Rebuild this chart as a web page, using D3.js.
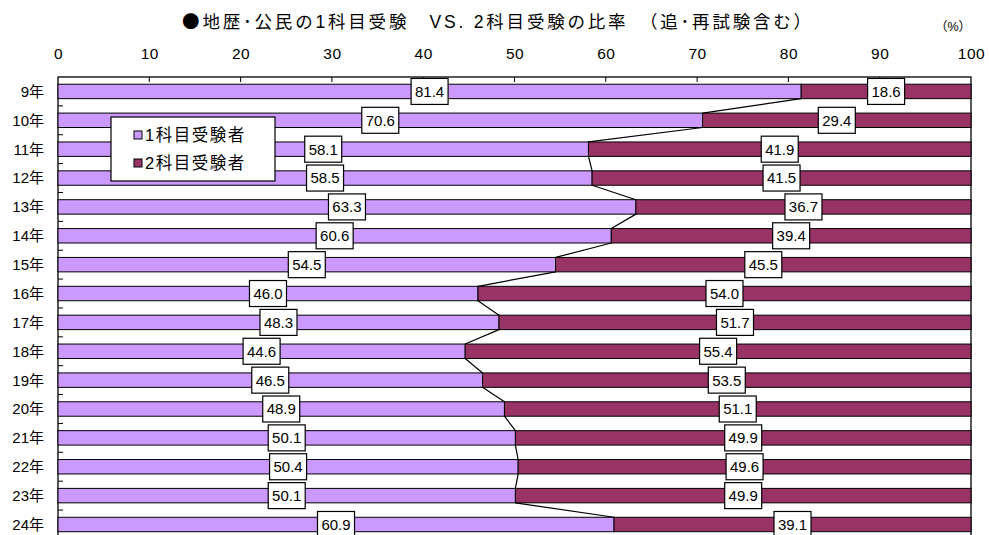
<!DOCTYPE html>
<html>
<head>
<meta charset="utf-8">
<script src="https://cdn.jsdelivr.net/npm/d3@7"></script>
<style>
  html, body { margin: 0; padding: 0; background: #fff; }
  svg text { font-family: "Liberation Sans", Arial, "Noto Sans CJK JP", sans-serif; fill: #000; }
</style>
</head>
<body>
<svg id="chart" width="989" height="535"></svg>
<script>
// Survey years (row labels, top to bottom)
const years = ["9年","10年","11年","12年","13年","14年","15年","16年","17年","18年","19年","20年","21年","22年","23年","24年"];
// Share of candidates taking one subject (%)
const oneSubject = [81.4,70.6,58.1,58.5,63.3,60.6,54.5,46.0,48.3,44.6,46.5,48.9,50.1,50.4,50.1,60.9];
// Share of candidates taking two subjects (%)
const twoSubjects = [18.6,29.4,41.9,41.5,36.7,39.4,45.5,54.0,51.7,55.4,53.5,51.1,49.9,49.6,49.9,39.1];
const seriesNames = ["1科目受験者","2科目受験者"];
const xTicks = [0,10,20,30,40,50,60,70,80,90,100];
const colors = ["#CC99FF","#993366"];

const svg = d3.select("#chart");
const margin = {left: 58, right: 18, top: 77};
const plotW = 989 - margin.left - margin.right;   // 913
const band = 28.87;
const plotH = band * years.length;

const x = d3.scaleLinear().domain([0,100]).range([margin.left, margin.left + plotW]);
const y = d3.scaleBand().domain(years).range([margin.top, margin.top + plotH]).paddingInner(0.5).paddingOuter(0.25);

const rows = years.map((yr,i) => ({year: yr, a: oneSubject[i], b: twoSubjects[i]}));

// Title
const title = svg.append("text")
  .attr("x", 498).attr("y", 28)
  .attr("text-anchor", "middle")
  .attr("font-size", 17.5)
  .attr("letter-spacing", 2.8);
title.append("tspan").attr("font-family", "Noto Sans CJK JP").text("●");
title.append("tspan").text("地歴･公民の1科目受験　VS. 2科目受験の比率　（追･再試験含む）");
svg.append("text")
  .attr("x", 953).attr("y", 31)
  .attr("text-anchor", "middle")
  .attr("font-size", 12.5)
  .text("（%）");

// Plot frame
svg.append("rect")
  .attr("x", x(0)).attr("y", margin.top)
  .attr("width", x(100) - x(0)).attr("height", plotH)
  .attr("fill", "#fff").attr("stroke", "#000").attr("stroke-width", 1.3);

// Top axis
const xAxis = d3.axisTop(x).tickValues(xTicks).tickSize(0).tickPadding(0);
const gx = svg.append("g").attr("transform", `translate(0,${margin.top})`).call(xAxis);
gx.select(".domain").remove();
gx.selectAll("text").attr("y", -18).attr("font-size", 15.5).attr("letter-spacing", 0.5).attr("font-family", null);
// inner tick marks along the top edge
svg.append("g").selectAll("line").data(xTicks.slice(1, -1)).join("line")
  .attr("x1", d => x(d)).attr("x2", d => x(d))
  .attr("y1", margin.top).attr("y2", margin.top + 5)
  .attr("stroke", "#000").attr("stroke-width", 1);

// Left category labels
svg.append("g").selectAll("text").data(years).join("text")
  .attr("x", 44).attr("y", d => y(d) + y.bandwidth()/2)
  .attr("dy", "0.36em")
  .attr("text-anchor", "end")
  .attr("font-size", 15)
  .text(d => d);
// inner tick marks at category boundaries
svg.append("g").selectAll("line").data(d3.range(1, years.length)).join("line")
  .attr("x1", x(0)).attr("x2", x(0) + 5)
  .attr("y1", i => margin.top + i*band).attr("y2", i => margin.top + i*band)
  .attr("stroke", "#000").attr("stroke-width", 1);

// Stacked bars
const bars = svg.append("g");
bars.selectAll("rect.a").data(rows).join("rect").attr("class","a")
  .attr("x", x(0)).attr("y", d => y(d.year))
  .attr("width", d => x(d.a) - x(0)).attr("height", y.bandwidth())
  .attr("fill", colors[0]).attr("stroke", "#000").attr("stroke-width", 1);
bars.selectAll("rect.b").data(rows).join("rect").attr("class","b")
  .attr("x", d => x(d.a)).attr("y", d => y(d.year))
  .attr("width", d => x(d.a + d.b) - x(d.a)).attr("height", y.bandwidth())
  .attr("fill", colors[1]).attr("stroke", "#000").attr("stroke-width", 1);

// Series lines linking the segment boundary of consecutive bars
svg.append("g").selectAll("line").data(rows.slice(0, -1)).join("line")
  .attr("x1", d => x(d.a)).attr("y1", d => y(d.year) + y.bandwidth())
  .attr("x2", (d,i) => x(rows[i+1].a)).attr("y2", (d,i) => y(rows[i+1].year))
  .attr("stroke", "#000").attr("stroke-width", 1.2);

// Value labels in boxes
function labels(cls, val, mid) {
  const g = svg.append("g").selectAll("g." + cls).data(rows).join("g")
    .attr("class", cls)
    .attr("transform", d => `translate(${mid(d)},${y(d.year) + y.bandwidth()/2})`);
  g.append("rect")
    .attr("x", -18.5).attr("y", -13).attr("width", 37).attr("height", 26)
    .attr("fill", "#fff").attr("stroke", "#000").attr("stroke-width", 1.2);
  g.append("text")
    .attr("text-anchor", "middle").attr("dy", "0.36em")
    .attr("font-size", 15)
    .text(d => val(d).toFixed(1));
}
labels("la", d => d.a, d => x(d.a / 2));
labels("lb", d => d.b, d => x(d.a + d.b / 2));

// Legend
const lg = svg.append("g").attr("transform", "translate(111,117)");
lg.append("rect").attr("width", 164).attr("height", 64)
  .attr("fill", "#fff").attr("stroke", "#000").attr("stroke-width", 1.2);
const items = lg.selectAll("g").data(seriesNames).join("g")
  .attr("transform", (d,i) => `translate(23,${18 + i*28})`);
items.append("rect").attr("x", 0).attr("y", -4).attr("width", 8).attr("height", 8)
  .attr("fill", (d,i) => colors[i]).attr("stroke", "#000").attr("stroke-width", 1);
items.append("text").attr("x", 11).attr("dy", "0.36em")
  .attr("font-size", 16.5)
  .attr("letter-spacing", 1.5)
  .text(d => d);
</script>
</body>
</html>
